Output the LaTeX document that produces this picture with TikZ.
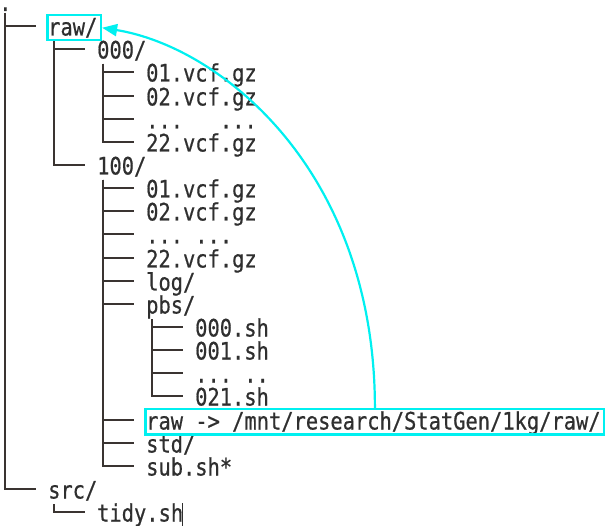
\documentclass[tikz,border=0pt]{standalone}
\usepackage{fontspec}
\newfontfamily\treefont[FakeStretch=0.85,FakeBold=0.6]{DejaVu Sans Mono}
\usetikzlibrary{arrows.meta,fit,calc}
\definecolor{txt}{HTML}{2F2F2F}
\definecolor{hl}{RGB}{0,240,240}
\definecolor{branch}{HTML}{3A3431}
\begin{document}
\begin{tikzpicture}[x=1pt,y=-1pt,
  entry/.style={anchor=base west, inner sep=0pt, text=txt,
    font=\treefont\fontsize{24pt}{24pt}\selectfont, text height=19pt, text depth=3.5pt},
  rootentry/.style={entry, text height=4pt, text depth=0pt},
  hlbox/.style={draw=hl, line width=2.2pt, inner xsep=2pt, inner ysep=1.2pt, xshift=1.5pt},
  branchline/.style={draw=branch, line width=2pt},
  link/.style={draw=hl, line width=2.2pt, -{Triangle[length=15pt,width=12pt]}},
  cursorline/.style={draw=txt, line width=1.2pt}]
\useasboundingbox (0,0) rectangle (607,526);

% entries
\node[rootentry] (root) at (-1,11) {.};
\node[entry] (raw)   at (48,35.5)   {raw/};
\node[entry] (d000)  at (97,58.5)   {000/};
\node[entry] (a01)   at (146,81.5)  {01.vcf.gz};
\node[entry] (a02)   at (146,105.5) {02.vcf.gz};
\node[entry] (adots) at (146,128.5) {...~~~...};
\node[entry] (a22)   at (146,151.5) {22.vcf.gz};
\node[entry] (d100)  at (97,174.5)  {100/};
\node[entry] (b01)   at (146,197.5) {01.vcf.gz};
\node[entry] (b02)   at (146,220.5) {02.vcf.gz};
\node[entry] (bdots) at (146,243.5) {...~...};
\node[entry] (b22)   at (146,267.5) {22.vcf.gz};
\node[entry] (log)   at (146,290.5) {log/};
\node[entry] (pbs)   at (146,313.5) {pbs/};
\node[entry] (p000)  at (195,336.5) {000.sh};
\node[entry] (p001)  at (195,359.5) {001.sh};
\node[entry] (pdots) at (195,382.5) {...~..};
\node[entry] (p021)  at (195,405.5) {021.sh};
\node[entry] (lnk)   at (146,429.5) {raw -> /mnt/research/StatGen/1kg/raw/};
\node[entry] (std)   at (146,452.5) {std/};
\node[entry] (sub)   at (146,475.5) {sub.sh*};
\node[entry] (src)   at (48,498.5)  {src/};
\node[entry] (tidy)  at (97,521.5)  {tidy.sh};

% tree branches
\foreach \c in {raw,src}
  \draw[branchline] ($(root.base west)+(6,2)$) |- ($(\c.base west)+(-12,-9.5)$);
\foreach \c in {d000,d100}
  \draw[branchline] ($(raw.base west)+(6,5.5)$) |- ($(\c.base west)+(-12,-9.5)$);
\foreach \c in {a01,a02,adots,a22}
  \draw[branchline] ($(d000.base west)+(6,5.5)$) |- ($(\c.base west)+(-12,-9.5)$);
\foreach \c in {b01,b02,bdots,b22,log,pbs,lnk,std,sub}
  \draw[branchline] ($(d100.base west)+(6,5.5)$) |- ($(\c.base west)+(-12,-9.5)$);
\foreach \c in {p000,p001,pdots,p021}
  \draw[branchline] ($(pbs.base west)+(6,5.5)$) |- ($(\c.base west)+(-12,-9.5)$);
\draw[branchline] ($(src.base west)+(6,5.5)$) |- ($(tidy.base west)+(-12,-9.5)$);

% cursor
\draw[cursorline] ($(tidy.base east)+(-0.5,-18.5)$) -- ($(tidy.base east)+(-0.5,6)$);

% highlight boxes
\node[hlbox, fit=(raw)] (rawbox) {};
\node[hlbox, fit=(lnk)] (lnkbox) {};

% arrow
\draw[link] (lnkbox.north) .. controls ($(lnkbox.north)+(0,-238)$) and ($(rawbox.east)+(118,19)$) .. (rawbox.east);
\end{tikzpicture}
\end{document}
